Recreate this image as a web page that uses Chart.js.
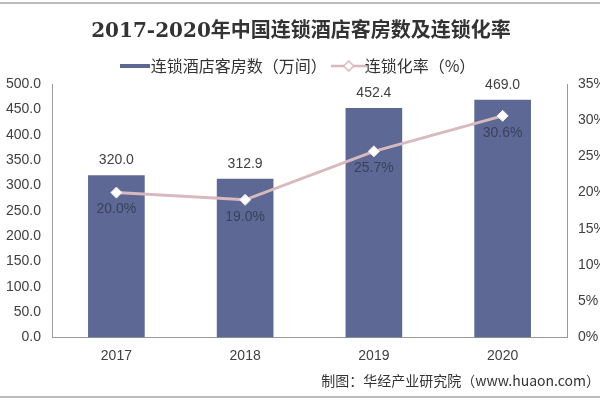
<!DOCTYPE html>
<html>
<head>
<meta charset="utf-8">
<script src="https://cdn.jsdelivr.net/npm/chart.js@4/dist/chart.umd.min.js"></script>
<style>
  html, body { margin: 0; padding: 0; background: #fff; }
  #wrap { width: 600px; height: 401px; position: relative; }
</style>
</head>
<body>
<div id="wrap"><canvas id="myChart" width="600" height="401"></canvas></div>
<script>
const years = ['2017', '2018', '2019', '2020']
const rooms = [320.0, 312.9, 452.4, 469.0]
const chainRate = [20.0, 19.0, 25.7, 30.6]

const barColor = '#5d6894'
const lineColor = '#d8b9bf'
const textColor = '#404040'
const numFont = '"Liberation Sans", Arial, sans-serif'

// legend swatches
function makeBarIcon() {
  const c = document.createElement('canvas')
  c.width = 30
  c.height = 6
  const g = c.getContext('2d')
  g.fillStyle = barColor
  g.fillRect(0, 1, 30, 4)
  return c
}
function makeLineIcon() {
  const c = document.createElement('canvas')
  c.width = 36
  c.height = 12
  const g = c.getContext('2d')
  g.strokeStyle = lineColor
  g.lineWidth = 2.5
  g.beginPath()
  g.moveTo(0, 6); g.lineTo(36, 6)
  g.stroke()
  g.fillStyle = '#ffffff'
  g.lineWidth = 1.5
  g.beginPath()
  g.moveTo(18, 1); g.lineTo(23, 6); g.lineTo(18, 11); g.lineTo(13, 6); g.closePath()
  g.fill()
  g.stroke()
  return c
}
const barIcon = makeBarIcon()
const lineIcon = makeLineIcon()

const labelPlugin = {
  id: 'valueLabels',
  beforeDraw(chart) {
    const ctx = chart.ctx
    ctx.save()
    ctx.strokeStyle = '#bbbbbb'
    ctx.lineWidth = 2
    ctx.beginPath()
    ctx.moveTo(0, 3); ctx.lineTo(600, 3)
    ctx.moveTo(0, 397); ctx.lineTo(600, 397)
    ctx.stroke()
    ctx.restore()
  },
  afterDatasetsDraw(chart) {
    const ctx = chart.ctx
    ctx.save()
    ctx.font = '14px ' + numFont
    ctx.fillStyle = textColor
    ctx.textAlign = 'center'
    chart.getDatasetMeta(1).data.forEach((bar, i) => {
      ctx.textBaseline = 'bottom'
      ctx.fillText(rooms[i].toFixed(1), bar.x, bar.y - 8)
    })
    ctx.fillStyle = '#3a4060'
    chart.getDatasetMeta(0).data.forEach((pt, i) => {
      ctx.textBaseline = 'top'
      ctx.fillText(chainRate[i].toFixed(1) + '%', pt.x, pt.y + 10)
    })
    ctx.restore()
  },
}

const chartConfig = {
  data: {
    labels: years,
    datasets: [
      {
        type: 'line',
        label: '连锁化率（%）',
        data: chainRate,
        yAxisID: 'y2',
        borderColor: lineColor,
        backgroundColor: '#ffffff',
        borderWidth: 3,
        pointStyle: 'rectRot',
        pointRadius: 5.5,
        pointBorderWidth: 1,
        pointBorderColor: '#f4eaec',
        pointBackgroundColor: '#ffffff',
        order: 0,
      },
      {
        type: 'bar',
        label: '连锁酒店客房数（万间）',
        data: rooms,
        yAxisID: 'y',
        backgroundColor: barColor,
        categoryPercentage: 1,
        barPercentage: 0.44,
        order: 1,
      },
    ],
  },
  options: {
    responsive: false,
    animation: false,
    layout: { padding: { left: 2, right: 0, top: 0, bottom: 4 } },
    plugins: {
      title: {
        display: true,
        text: '2017-2020年中国连锁酒店客房数及连锁化率',
        color: '#333333',
        font: { size: 20, weight: 'bold', family: '"DejaVu Serif", "Noto Sans CJK SC", serif' },
        padding: { top: 20, bottom: 0 },
      },
      subtitle: {
        display: true,
        position: 'bottom',
        align: 'end',
        text: '制图：华经产业研究院（www.huaon.com）',
        color: '#333333',
        font: { size: 14, family: '"Noto Sans CJK SC", sans-serif' },
        padding: { top: 6, bottom: 8 },
      },
      legend: {
        display: true,
        labels: {
          color: '#333333',
          font: { size: 16, family: '"Noto Sans CJK SC", sans-serif' },
          usePointStyle: true,
          padding: 14,
          generateLabels: (chart) => [
            { text: '连锁酒店客房数（万间）', pointStyle: barIcon, datasetIndex: 1, fontColor: '#333333', lineWidth: 0 },
            { text: '连锁化率（%）', pointStyle: lineIcon, datasetIndex: 0, fontColor: '#333333', lineWidth: 0 },
          ],
        },
      },
      tooltip: { enabled: false },
    },
    scales: {
      x: {
        grid: { display: false },
        border: { color: '#999999' },
        ticks: { color: textColor, font: { size: 14, family: numFont }, padding: 2 },
      },
      y: {
        position: 'left',
        min: 0,
        max: 500,
        grid: { display: false },
        border: { color: '#999999' },
        afterFit: (s) => { s.width = 50 },
        ticks: {
          stepSize: 50,
          color: textColor,
          font: { size: 14, family: numFont },
          callback: (v) => v.toFixed(1),
        },
      },
      y2: {
        position: 'right',
        min: 0,
        max: 35,
        grid: { display: false },
        border: { color: '#999999' },
        afterFit: (s) => { s.width = 33 },
        ticks: {
          stepSize: 5,
          color: textColor,
          font: { size: 14, family: numFont },
          callback: (v) => v + '%',
        },
      },
    },
  },
  plugins: [labelPlugin],
}

const ctx = document.getElementById('myChart').getContext('2d')
const chart = new Chart(ctx, chartConfig)
</script>
</body>
</html>
